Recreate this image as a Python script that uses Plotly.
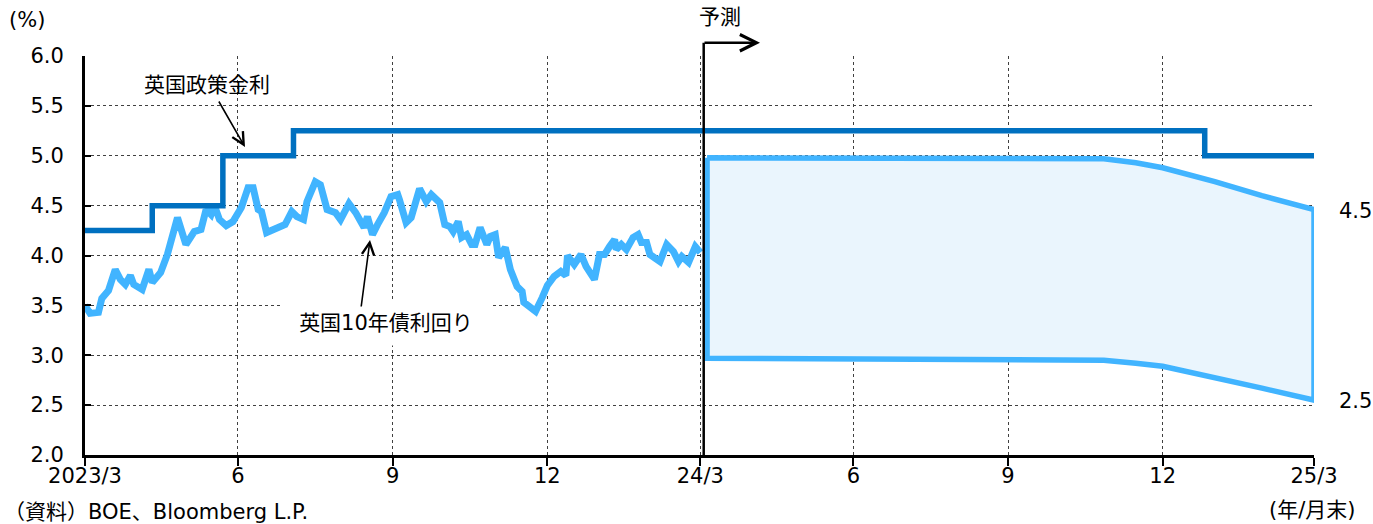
import plotly.graph_objects as go

# ---------------- data ----------------
yield_dates = [
    "2023-03-31","2023-04-03","2023-04-08","2023-04-10","2023-04-14","2023-04-18","2023-04-21","2023-04-24","2023-04-27","2023-04-29",
    "2023-05-04","2023-05-08","2023-05-10","2023-05-15","2023-05-19","2023-05-25","2023-05-30","2023-06-04","2023-06-08","2023-06-11",
    "2023-06-14","2023-06-16","2023-06-19","2023-06-23","2023-06-27","2023-07-01","2023-07-02","2023-07-06","2023-07-09","2023-07-12",
    "2023-07-14","2023-07-17","2023-07-22","2023-07-28","2023-08-01","2023-08-04","2023-08-08","2023-08-10","2023-08-15","2023-08-18",
    "2023-08-22","2023-08-27","2023-08-30","2023-09-04","2023-09-08","2023-09-13","2023-09-15","2023-09-18","2023-09-21","2023-09-25",
    "2023-09-29","2023-10-03","2023-10-04","2023-10-08","2023-10-11","2023-10-16","2023-10-20","2023-10-23","2023-10-28","2023-10-31",
    "2023-11-03","2023-11-05","2023-11-08","2023-11-10","2023-11-13","2023-11-16","2023-11-18","2023-11-21","2023-11-25","2023-11-27",
    "2023-11-30","2023-12-02","2023-12-06","2023-12-09","2023-12-13","2023-12-16","2023-12-17","2023-12-21","2023-12-24","2023-12-28",
    "2023-12-31","2024-01-04","2024-01-08","2024-01-11","2024-01-12","2024-01-16","2024-01-20","2024-01-23","2024-01-28","2024-01-31",
    "2024-02-03","2024-02-06","2024-02-09","2024-02-10","2024-02-13","2024-02-16","2024-02-20","2024-02-23","2024-02-25","2024-02-28",
    "2024-03-01","2024-03-07","2024-03-11","2024-03-15","2024-03-18","2024-03-20","2024-03-24","2024-03-28","2024-03-31",
]
yield_values = [
    3.50,3.42,3.43,3.57,3.65,3.86,3.76,3.71,3.80,3.71,
    3.66,3.86,3.73,3.83,4.01,4.38,4.11,4.24,4.26,4.46,
    4.41,4.50,4.36,4.30,4.34,4.43,4.48,4.68,4.68,4.46,
    4.44,4.23,4.26,4.31,4.44,4.39,4.36,4.54,4.74,4.71,
    4.46,4.43,4.36,4.52,4.43,4.28,4.39,4.21,4.31,4.43,
    4.59,4.61,4.56,4.33,4.38,4.67,4.54,4.61,4.53,4.31,
    4.29,4.24,4.34,4.18,4.21,4.11,4.11,4.28,4.11,4.19,
    4.21,3.98,4.08,3.86,3.69,3.64,3.53,3.49,3.44,3.58,
    3.70,3.79,3.84,3.80,4.00,3.91,4.01,3.89,3.76,4.01,
    4.01,4.09,4.16,4.06,4.11,4.06,4.18,4.21,4.13,4.13,
    4.01,3.94,4.11,4.04,3.94,3.99,3.93,4.09,4.03,
]

policy_dates = ["2023-03-31", "2023-05-10", "2023-06-21", "2023-08-02", "2025-01-25", "2025-03-31"]
policy_values = [4.25, 4.50, 5.00, 5.25, 5.00, 5.00]

fc_dates = ["2024-04-04", "2024-11-26", "2024-12-15", "2024-12-31", "2025-01-31", "2025-02-28", "2025-03-31"]
fc_upper = [4.98, 4.97, 4.93, 4.88, 4.74, 4.60, 4.46]
fc_lower = [2.97, 2.95, 2.92, 2.89, 2.78, 2.67, 2.55]
fc_start = "2024-04-02"
end_labels = ["4.5", "2.5"]

tick_dates = ["2023-03-31", "2023-06-30", "2023-09-30", "2023-12-31", "2024-03-31",
              "2024-06-30", "2024-09-30", "2024-12-31", "2025-03-31"]
tick_text = ["2023/3", "6", "9", "12", "24/3", "6", "9", "12", "25/3"]
y_ticks = [2.0, 2.5, 3.0, 3.5, 4.0, 4.5, 5.0, 5.5, 6.0]

# ---------------- layout geometry ----------------
W, H = 1373, 524
L, R, T, B = 85, 1314, 56, 455


def px(x):
    return (x - L) / (R - L)


def py(y):
    return (B - y) / (B - T)


FONT = "DejaVu Sans, Noto Sans CJK JP, sans-serif"
LIGHT = "#41B4FF"
DARK = "#0070C0"
FS = 21

fig = go.Figure()

# forecast band (closed polygon)
band_x = fc_dates + fc_dates[::-1] + [fc_dates[0]]
band_y = fc_upper + fc_lower[::-1] + [fc_upper[0]]
fig.add_trace(go.Scatter(x=band_x, y=band_y, mode="lines", fill="toself",
                         fillcolor="#EAF5FD", line=dict(color=LIGHT, width=5.5),
                         hoverinfo="skip"))

fig.add_trace(go.Scatter(x=yield_dates, y=yield_values, mode="lines",
                         line=dict(color=LIGHT, width=7)))
fig.add_trace(go.Scatter(x=policy_dates, y=policy_values, mode="lines",
                         line=dict(color=DARK, width=5.5, shape="hv")))

fig.update_layout(
    width=W, height=H,
    margin=dict(l=L, r=W - R, t=T, b=H - B),
    paper_bgcolor="white", plot_bgcolor="white",
    showlegend=False,
    font=dict(family=FONT, size=FS, color="black"),
)

fig.update_xaxes(
    type="date", range=[tick_dates[0], tick_dates[-1]],
    tickvals=tick_dates, ticktext=tick_text,
    showgrid=True, gridcolor="#404040", gridwidth=1, griddash="dot",
    showline=True, linecolor="black", linewidth=3,
    ticks="outside", ticklen=8, tickwidth=2, tickcolor="black",
    tickfont=dict(size=FS), zeroline=False, ticklabelstandoff=-8,
)
fig.update_yaxes(
    range=[2.0, 6.0], tickvals=y_ticks, tickformat=".1f",
    showgrid=True, gridcolor="#404040", gridwidth=1, griddash="dot",
    showline=True, linecolor="black", linewidth=3,
    ticks="inside", ticklen=6, tickwidth=2, tickcolor="black",
    tickfont=dict(size=FS), zeroline=False, ticklabelstandoff=14,
)

# forecast marker: vertical black line + arrow to the right
fig.add_shape(type="line", xref="x", yref="paper", x0=fc_start, x1=fc_start,
              y0=0, y1=py(42.7), line=dict(color="black", width=2.5))


def label(x, y, text, **kw):
    d = dict(xref="paper", yref="paper", x=px(x), y=py(y), text=text,
             showarrow=False, xanchor="center", yanchor="middle",
             font=dict(size=FS))
    d.update(kw)
    return d


def arrow(hx, hy, ax, ay, width=1.6, size=1.5):
    return dict(xref="paper", yref="paper", x=px(hx), y=py(hy), text="",
                showarrow=True, axref="pixel", ayref="pixel", ax=ax, ay=ay,
                arrowhead=5, arrowwidth=width, arrowsize=size, arrowcolor="black")


ann = [
    arrow(760, 42.7, -57, 0, width=2.5, size=1.3),
    label(720, 17, "予測"),
    label(27, 20, "(%)"),
    label(207, 85, "英国政策金利"),
    arrow(245, 147, -27, -47),
    label(386, 323, "英国10年債利回り", bgcolor="white", width=206, height=40, borderpad=2),
    arrow(370, 240, -9, 68),
    label(1355, 211, end_labels[0]),
    label(1355, 401, end_labels[1]),
    label(1312, 510, "(年/月末)"),
    label(2, 512, "（資料）BOE、Bloomberg L.P.", xanchor="left"),
]
fig.update_layout(annotations=ann)

fig.write_html("out.html")
